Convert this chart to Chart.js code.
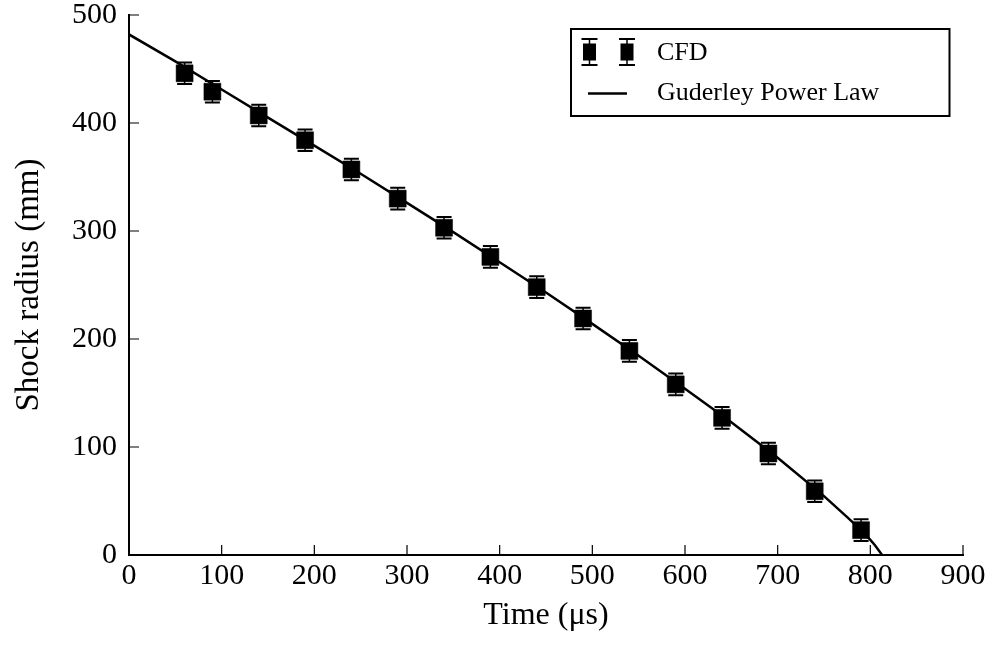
<!DOCTYPE html>
<html>
<head>
<meta charset="utf-8">
<script src="https://cdn.jsdelivr.net/npm/chart.js@4.4.0/dist/chart.umd.min.js"></script>
<style>
  html, body { margin: 0; padding: 0; background: #fff; }
  #wrap { width: 993px; height: 648px; }
</style>
</head>
<body>
<div id="wrap"><canvas id="shockChart" width="993" height="648"></canvas></div>
<script>
// CFD shock radius samples (time in µs, radius in mm, ± error in mm)
const cfdTime = [60, 90, 140, 190, 240, 290, 340, 390, 440, 490, 540, 590, 640, 690, 740, 790];
const cfdRadius = [446, 429, 407, 384, 357, 330, 303, 276, 248, 219, 189, 158, 127, 94, 59, 23];
const cfdError = [10, 10, 10, 10, 10, 10, 10, 10, 10, 10, 10, 10, 10, 10, 10, 10];

// Guderley power law curve
const lawTime = [0, 50, 100, 150, 200, 250, 300, 350, 400, 450, 500, 550, 600, 650, 700, 750, 775, 790, 800, 805, 812.7];
const lawRadius = [482, 457, 431, 405, 379, 353, 326, 299, 271, 243, 214, 184.5, 154, 123, 90, 54.5, 35, 23, 14, 9, 0];

const xTicks = [0, 100, 200, 300, 400, 500, 600, 700, 800, 900];
const yTicks = [0, 100, 200, 300, 400, 500];

const serif = "'Liberation Serif', 'Times New Roman', serif";

// error bars under the markers
const errorBars = {
  id: "errorBars",
  beforeDatasetsDraw(chart) {
    const { ctx, scales: { x, y } } = chart;
    ctx.save();
    ctx.strokeStyle = "#000";
    cfdTime.forEach((t, i) => {
      const px = x.getPixelForValue(t);
      const top = y.getPixelForValue(cfdRadius[i] + cfdError[i]);
      const bot = y.getPixelForValue(cfdRadius[i] - cfdError[i]);
      ctx.lineWidth = 1.5;
      ctx.beginPath();
      ctx.moveTo(px, top);
      ctx.lineTo(px, bot);
      ctx.stroke();
      ctx.lineWidth = 2;
      ctx.beginPath();
      ctx.moveTo(px - 7.5, top);
      ctx.lineTo(px + 7.5, top);
      ctx.moveTo(px - 7.5, bot);
      ctx.lineTo(px + 7.5, bot);
      ctx.stroke();
    });
    ctx.restore();
  },
};

// inward tick marks, matplotlib style
const inwardTicks = {
  id: "inwardTicks",
  afterDraw(chart) {
    const { ctx, chartArea, scales: { x, y } } = chart;
    ctx.save();
    ctx.strokeStyle = "#000";
    ctx.lineWidth = 1.2;
    ctx.beginPath();
    xTicks.forEach((v) => {
      const px = x.getPixelForValue(v);
      ctx.moveTo(px, chartArea.bottom);
      ctx.lineTo(px, chartArea.bottom - 10);
    });
    yTicks.forEach((v) => {
      const py = y.getPixelForValue(v);
      ctx.moveTo(chartArea.left, py);
      ctx.lineTo(chartArea.left + 10, py);
    });
    ctx.stroke();
    ctx.restore();
  },
};

// boxed legend with error-bar markers
const boxLegend = {
  id: "boxLegend",
  afterDraw(chart) {
    const { ctx, chartArea } = chart;
    const right = chartArea.right - 13.5;
    const left = right - 378.5;
    const top = chartArea.top + 14;
    const h = 87;
    ctx.save();
    ctx.fillStyle = "#fff";
    ctx.fillRect(left, top, right - left, h);
    ctx.strokeStyle = "#000";
    ctx.lineWidth = 2;
    ctx.strokeRect(left, top, right - left, h);

    const row1 = top + 23;
    const row2 = top + 64.5;
    ctx.fillStyle = "#000";
    [left + 18.5, left + 56].forEach((cx) => {
      ctx.lineWidth = 1.5;
      ctx.beginPath();
      ctx.moveTo(cx, row1 - 13);
      ctx.lineTo(cx, row1 + 13);
      ctx.stroke();
      ctx.lineWidth = 2;
      ctx.beginPath();
      ctx.moveTo(cx - 8, row1 - 13);
      ctx.lineTo(cx + 8, row1 - 13);
      ctx.moveTo(cx - 8, row1 + 13);
      ctx.lineTo(cx + 8, row1 + 13);
      ctx.stroke();
      ctx.fillRect(cx - 6.5, row1 - 8.5, 13, 17);
    });
    ctx.lineWidth = 2.5;
    ctx.beginPath();
    ctx.moveTo(left + 17, row2);
    ctx.lineTo(left + 56, row2);
    ctx.stroke();

    ctx.font = "26px " + serif;
    ctx.textBaseline = "middle";
    ctx.textAlign = "left";
    ctx.fillText("CFD", left + 86, row1 + 1);
    ctx.fillText("Guderley Power Law", left + 86, row2);
    ctx.restore();
  },
};

const cfdPoints = cfdTime.map((t, i) => ({ x: t, y: cfdRadius[i] }));
const lawPoints = lawTime.map((t, i) => ({ x: t, y: lawRadius[i] }));

new Chart(document.getElementById("shockChart"), {
  type: "scatter",
  data: {
    datasets: [
      {
        label: "CFD",
        data: cfdPoints,
        pointStyle: "rect",
        pointRadius: 12,
        backgroundColor: "#000",
        borderColor: "#000",
        borderWidth: 0.5,
        showLine: false,
      },
      {
        label: "Guderley Power Law",
        data: lawPoints,
        showLine: true,
        pointRadius: 0,
        borderColor: "#000",
        borderWidth: 2.5,
        tension: 0,
      },
    ],
  },
  options: {
    responsive: false,
    animation: false,
    devicePixelRatio: 1,
    layout: { padding: { left: 0, right: 30, top: 15, bottom: 0 } },
    plugins: {
      legend: { display: false },
      tooltip: { enabled: false },
    },
    scales: {
      x: {
        type: "linear",
        min: 0,
        max: 900,
        afterBuildTicks: (scale) => {
          scale.ticks = xTicks.map((v) => ({ value: v }));
        },
        afterFit: (scale) => {
          scale.height = 93;
          scale.paddingLeft = 0;
          scale.paddingRight = 0;
        },
        ticks: {
          color: "#000",
          font: { family: serif, size: 30 },
          padding: 3,
          maxRotation: 0,
          autoSkip: false,
        },
        grid: { drawOnChartArea: false, drawTicks: false, color: "rgba(0,0,0,0)" },
        border: { display: true, color: "#000", width: 2 },
        title: {
          display: true,
          text: "Time (μs)",
          color: "#000",
          font: { family: serif, size: 32 },
          padding: { top: 0, bottom: 13 },
        },
      },
      y: {
        type: "linear",
        min: 0,
        max: 500,
        afterBuildTicks: (scale) => {
          scale.ticks = yTicks.map((v) => ({ value: v }));
        },
        afterFit: (scale) => {
          scale.width = 129;
          scale.paddingTop = 0;
          scale.paddingBottom = 0;
        },
        ticks: {
          color: "#000",
          font: { family: serif, size: 30 },
          padding: 12,
        },
        grid: { drawOnChartArea: false, drawTicks: false, color: "rgba(0,0,0,0)" },
        border: { display: true, color: "#000", width: 2 },
        title: {
          display: true,
          text: "Shock radius (mm)",
          color: "#000",
          font: { family: serif, size: 33 },
          padding: { top: 10, bottom: 0 },
        },
      },
    },
  },
  plugins: [errorBars, inwardTicks, boxLegend],
});
</script>
</body>
</html>
